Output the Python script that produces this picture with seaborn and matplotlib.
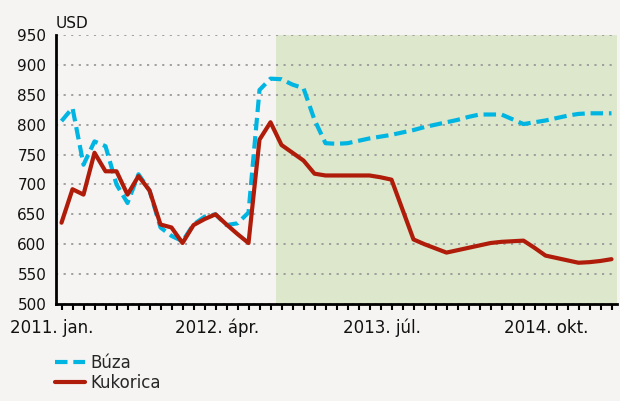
import numpy as np
import pandas as pd
import matplotlib
matplotlib.use("Agg")
import matplotlib.pyplot as plt
import seaborn as sns
from matplotlib.lines import Line2D
from matplotlib.ticker import FixedLocator

# ---- data (monthly, 2011 jan .. 2015 márc.) ----
buza = [806, 828, 733, 772, 764, 700, 669, 717, 690, 628, 614, 605, 633, 646, 650,
        632, 635, 653, 858, 877, 876, 867, 861, 808, 769, 768, 769, 773, 777, 780,
        783, 787, 791, 796, 800, 804, 808, 813, 817, 817, 817, 809, 801, 804, 807,
        811, 815, 818, 819, 819, 819]
kukorica = [636, 692, 683, 753, 722, 722, 683, 714, 690, 633, 628, 602, 632, 642, 650,
            633, 617, 602, 775, 804, 766, 753, 740, 718, 715, 715, 715, 715, 715, 712,
            708, 658, 608, 600, 593, 586, 590, 594, 598, 602, 604, 605, 606, 594, 581,
            577, 573, 569, 570, 572, 575]
series_names = ["Búza", "Kukorica"]
tick_labels = ["2011. jan.", "2012. ápr.", "2013. júl.", "2014. okt."]
tick_idx = [0, 15, 30, 45]
y_ticks = [500, 550, 600, 650, 700, 750, 800, 850, 900, 950]
forecast_start = 20  # first shaded month index
unit_label = "USD"

BG = "#F5F4F2"
GREEN = "#DCE7CB"
BLUE = "#00B5E2"
RED = "#B01C0A"

sns.set_theme(style="white")
plt.rcParams["font.family"] = ["DejaVu Sans"]

fig = plt.figure(figsize=(6.2, 4.01), dpi=100, facecolor=BG)
ax = fig.add_axes([56 / 620, 1 - 304 / 401, (617 - 56) / 620, (304 - 35) / 401])
ax.set_facecolor(BG)

n = len(buza)
x = np.arange(n)
df = pd.DataFrame({
    "x": np.concatenate([x, x]),
    "v": buza + kukorica,
    "s": [series_names[0]] * n + [series_names[1]] * n,
})

ax.axvspan(forecast_start - 0.5, n - 0.5, color=GREEN, lw=0, zorder=0)

sns.lineplot(data=df, x="x", y="v", hue="s", style="s",
             palette={series_names[0]: BLUE, series_names[1]: RED},
             dashes={series_names[0]: (3, 1.4), series_names[1]: ""},
             linewidth=3, ax=ax, legend=False, zorder=3)

ax.set_xlim(-0.5, n - 0.5)
ax.set_ylim(500, 950)
ax.set_xlabel("")
ax.set_ylabel("")

ax.set_axisbelow(True)
ax.yaxis.grid(True, color="#9a9a9a", linestyle=(0, (1.2, 3)), linewidth=1.3)
ax.xaxis.grid(False)

for s in ["top", "right"]:
    ax.spines[s].set_visible(False)
for s in ["left", "bottom"]:
    ax.spines[s].set_color("black")
    ax.spines[s].set_linewidth(2)

ax.set_yticks(y_ticks)
ax.set_yticklabels([str(v) for v in y_ticks])
ax.tick_params(axis="y", which="major", direction="out", length=6, width=1.5,
               color="black", labelsize=11, pad=1, labelcolor="#111111")

# month tick marks
ax.xaxis.set_major_locator(FixedLocator(list(range(n))))
ax.set_xticklabels([""] * n)
ax.tick_params(axis="x", which="major", direction="out", length=4, width=1.5,
               color="black", bottom=True)

# category labels (slightly left of their month)
for i, lab in zip(tick_idx, tick_labels):
    ax.text(i - 0.9, -(328 - 304) / 269, lab, transform=ax.get_xaxis_transform(),
            ha="center", va="center", fontsize=12, color="#111111", clip_on=False)

fig.text(56 / 620, 1 - 23 / 401, unit_label, ha="left", va="center",
         fontsize=11, color="#111111")

handles = [Line2D([], [], color=BLUE, lw=3, dashes=(3, 1.4)),
           Line2D([], [], color=RED, lw=3)]
ax.legend(handles, series_names, loc="upper left",
          bbox_to_anchor=(55 / 620, 1 - 354 / 401), bbox_transform=fig.transFigure,
          frameon=False, fontsize=12, handlelength=1.8, handletextpad=0.35,
          labelspacing=0.12, borderpad=0, borderaxespad=0)

fig.savefig("out.png", dpi=100, facecolor=BG)
